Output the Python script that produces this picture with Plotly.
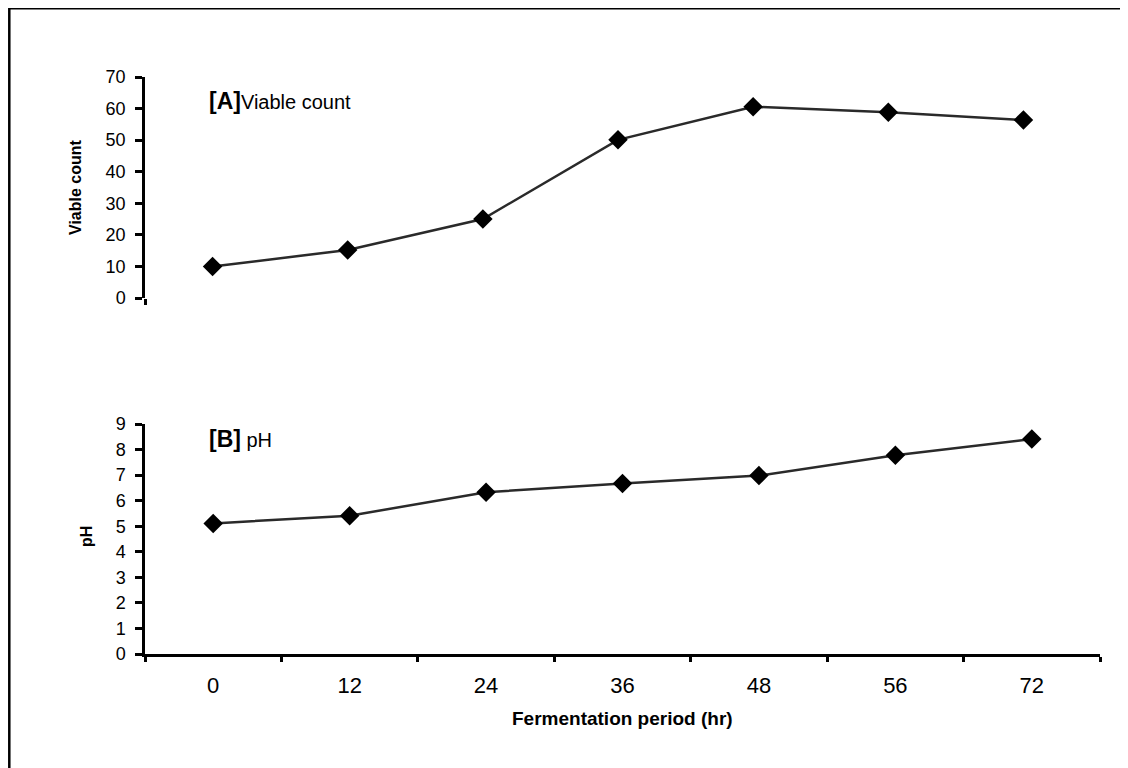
import plotly.graph_objects as go

# ---- data ----
categories = ["0", "12", "24", "36", "48", "56", "72"]
viable_count = [10, 15.2, 25, 50.1, 60.6, 58.8, 56.4]
ph_values = [5.11, 5.41, 6.33, 6.67, 6.98, 7.78, 8.41]
viable_ticks = [0, 10, 20, 30, 40, 50, 60, 70]
ph_ticks = [0, 1, 2, 3, 4, 5, 6, 7, 8, 9]

W, H = 1128, 768
OFF = 8  # page body margin
def px(x):
    return (x - OFF) / W
def py(y):
    return 1 - (y - OFF) / H

FONT = "Liberation Sans, Arial, sans-serif"
LINE_COLOR = "#2a2a2a"

fig = go.Figure()

# Panel A: viable count (numeric x positions = category index)
fig.add_trace(go.Scatter(
    x=list(range(len(categories))), y=viable_count,
    xaxis="x2", yaxis="y2", mode="lines+markers",
    line=dict(color=LINE_COLOR, width=2.5),
    marker=dict(symbol="diamond", size=15, color="black"),
    showlegend=False, hoverinfo="skip",
))

# Panel B: pH
fig.add_trace(go.Scatter(
    x=categories, y=ph_values,
    xaxis="x", yaxis="y", mode="lines+markers",
    line=dict(color=LINE_COLOR, width=2.5),
    marker=dict(symbol="diamond", size=15, color="black"),
    showlegend=False, hoverinfo="skip",
))

axis_common = dict(showgrid=False, zeroline=False, automargin=False,
                   linecolor="black", tickcolor="black")

fig.update_layout(
    width=W, height=H,
    margin=dict(l=0, r=0, t=0, b=0),
    paper_bgcolor="white", plot_bgcolor="white",
    font=dict(family=FONT, color="black"),
    xaxis=dict(
        **axis_common,
        domain=[px(145), px(1100)], anchor="y",
        type="category", categoryorder="array", categoryarray=categories,
        range=[-0.5, 6.5],
        showline=True, linewidth=2.5,
        ticks="outside", tickson="boundaries", ticklen=5, tickwidth=2.5,
        tickfont=dict(family=FONT, size=22, color="black"),
        ticklabelstandoff=10,
    ),
    yaxis=dict(
        **axis_common,
        domain=[py(654), py(424)], anchor="x",
        range=[0, 9], tickvals=ph_ticks,
        showline=True, linewidth=2.5,
        ticks="outside", ticklen=7, tickwidth=2.5,
        tickfont=dict(family=FONT, size=18, color="black"),
        ticklabelstandoff=6,
    ),
    xaxis2=dict(
        **axis_common,
        domain=[px(145), px(1091)], anchor="y2",
        range=[-0.5, 6.5], tickvals=[-0.5],
        showline=False, showticklabels=False,
        ticks="outside", ticklen=6, tickwidth=2.5,
    ),
    yaxis2=dict(
        **axis_common,
        domain=[py(298), py(77)], anchor="x2",
        range=[0, 70], tickvals=viable_ticks,
        showline=True, linewidth=2.5,
        ticks="outside", ticklen=7, tickwidth=2.5,
        tickfont=dict(family=FONT, size=18, color="black"),
        ticklabelstandoff=6,
    ),
    shapes=[dict(
        type="rect", xref="paper", yref="paper",
        x0=px(9.3), y0=py(790), x1=px(1150), y1=py(8.3),
        line=dict(color="black", width=2.5), fillcolor="rgba(0,0,0,0)",
        layer="below",
    )],
    annotations=[
        dict(xref="paper", yref="paper", x=px(207), y=py(101),
             xanchor="left", yanchor="middle", showarrow=False,
             text="<b><span style='font-size:23px'>[A]</span></b>Viable count",
             font=dict(family=FONT, size=20, color="black")),
        dict(xref="paper", yref="paper", x=px(207), y=py(439),
             xanchor="left", yanchor="middle", showarrow=False,
             text="<b><span style='font-size:23px'>[B]</span></b> pH",
             font=dict(family=FONT, size=20, color="black")),
        dict(xref="paper", yref="paper", x=px(76), y=py(187),
             xanchor="center", yanchor="middle", showarrow=False,
             textangle=-90, text="<b>Viable count</b>",
             font=dict(family=FONT, size=16, color="black")),
        dict(xref="paper", yref="paper", x=px(86), y=py(537),
             xanchor="center", yanchor="middle", showarrow=False,
             textangle=-90, text="<b>pH</b>",
             font=dict(family=FONT, size=16, color="black")),
        dict(xref="paper", yref="paper", x=px(622), y=py(718),
             xanchor="center", yanchor="middle", showarrow=False,
             text="<b>Fermentation period (hr)</b>",
             font=dict(family=FONT, size=19, color="black")),
    ],
)

fig.write_html("out.html")
